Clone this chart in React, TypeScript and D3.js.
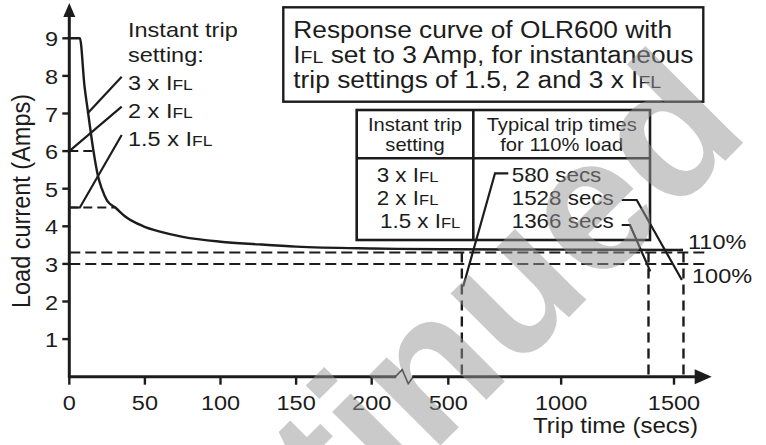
import * as d3 from 'd3';

const W = 766;
const H = 445;
const SX = 1.12; // glyphs in the source are stretched sideways
const FONT = '"Liberation Sans", Arial, Helvetica, sans-serif';
const INK = '#1c1c1c';

// response curve: trip time (s) against load current (A)
const curveTime = [0, 7, 10, 12.5, 16, 19, 21.5, 25, 31, 37, 49, 60, 75, 100, 125, 150, 200, 300, 500, 1000, 1540];
const curveAmps = [9, 9, 7.75, 7, 6, 5.33, 5, 4.68, 4.48, 4.26, 4.0, 3.86, 3.72, 3.59, 3.52, 3.46, 3.41, 3.4, 3.39, 3.38, 3.37];

const yTicks = [1, 2, 3, 4, 5, 6, 7, 8, 9];
const xTicks = [0, 50, 100, 150, 200, 500, 1000, 1500];

const levels = [3.3, 3.0]; // 110% and 100% of IFL
const levelLabels = ['110%', '100%'];

// instant trip levels and where they meet the curve
const instantAmps = [6, 4.5];
const instantTime = [16, 31];

// trip times marked on the chart (as drawn) and their table labels
const tripTimes = [560, 1387, 1542];
const settingLabels = ['3 x ', '2 x ', '1.5 x '];
const tripLabels = ['580 secs', '1528 secs', '1366 secs'];

const x = d3.scaleLinear().domain([0, 200, 500, 1500]).range([69.3, 371.7, 448.3, 674]);
const y = d3.scaleLinear().domain([0, 9]).range([376.7, 38.3]);

function T({ x, y, size, anchor = 'start', rotate, children }: any) {
  return (
    <text
      transform={`translate(${x},${y}) scale(${SX},1)${rotate ? ` rotate(${rotate})` : ''}`}
      textAnchor={anchor}
      fontSize={size}
    >
      {children}
    </text>
  );
}

const Ifl = () => (
  <>
    I<tspan fontSize="0.74em">FL</tspan>
  </>
);

export default function App() {
  const line = d3
    .line<number>()
    .x((_, i) => x(curveTime[i]))
    .y(d => y(d))
    .curve(d3.curveMonotoneX);

  const x0 = x(0);
  const y0 = y(0);
  const xEnd = 711.7;
  const breakX = x(300);

  return (
    <svg
      width={W}
      height={H}
      style={{ position: 'absolute', left: 0, top: 0, background: '#fff' }}
      fontFamily={FONT}
      fill={INK}
    >
      {/* reference levels */}
      {levels.map((v, i) => (
        <g key={v}>
          <line x1={x0} x2={707} y1={y(v)} y2={y(v)} stroke={INK} strokeWidth={2} strokeDasharray="11 5" />
          <T x={i === 0 ? 688 : 692} y={y(v) + (i === 0 ? -4 : 19)} size={21}>{levelLabels[i]}</T>
        </g>
      ))}

      {/* instant trip levels */}
      {instantAmps.map((v, i) => (
        <line key={v} x1={x0} x2={x(instantTime[i])} y1={y(v)} y2={y(v)} stroke={INK} strokeWidth={2} strokeDasharray="9 5" />
      ))}

      {/* trip time drop lines */}
      {tripTimes.map(t => (
        <line key={t} x1={x(t)} x2={x(t)} y1={y(3.3)} y2={y0} stroke={INK} strokeWidth={2.4} strokeDasharray="10 6" />
      ))}

      {/* curve */}
      <path d={line(curveAmps) || ''} fill="none" stroke={INK} strokeWidth={2.4} />
      <line x1={x(1540)} x2={680} y1={y(3.37)} y2={y(3.37)} stroke={INK} strokeWidth={2.2} />

      {/* axes */}
      <line x1={x0} x2={x0} y1={y0 + 1.5} y2={14} stroke={INK} strokeWidth={3} />
      <path d={`M${x0},3 L${x0 - 6},17 L${x0 + 6},17 Z`} fill={INK} />
      {yTicks.map(v => (
        <g key={v}>
          <line x1={x0 - 7} x2={x0} y1={y(v)} y2={y(v)} stroke={INK} strokeWidth={2.4} />
          <T x={58} y={y(v) + 8} size={21} anchor="end">{v}</T>
        </g>
      ))}
      <line x1={x0} x2={breakX - 1} y1={y0} y2={y0} stroke={INK} strokeWidth={3} />
      <path
        d={`M${breakX - 2},${y0} L${breakX + 5},${y0 - 7} L${breakX + 11},${y0 + 7} L${breakX + 16},${y0}`}
        fill="none"
        stroke={INK}
        strokeWidth={1.6}
      />
      <line x1={breakX + 15} x2={xEnd - 12} y1={y0} y2={y0} stroke={INK} strokeWidth={3} />
      <path d={`M${xEnd},${y0} L${xEnd - 17},${y0 - 7.5} L${xEnd - 17},${y0 + 7.5} Z`} fill={INK} />
      {xTicks.map(t => (
        <g key={t}>
          <line x1={x(t)} x2={x(t)} y1={y0} y2={y0 + 8} stroke={INK} strokeWidth={2.4} />
          <T x={x(t)} y={y0 + 33} size={21} anchor="middle">{t}</T>
        </g>
      ))}
      <T x={533} y={433} size={21.5}>Trip time (secs)</T>
      <T x={30} y={201} size={23.5} anchor="middle" rotate={-90}>Load current (Amps)</T>

      {/* instant trip setting labels, top left */}
      <T x={128} y={36.5} size={21}>Instant trip</T>
      <T x={128} y={62} size={21}>setting:</T>
      {settingLabels.map((s, i) => (
        <T key={s} x={128} y={90 + i * 28} size={21}>
          {s}
          <Ifl />
        </T>
      ))}
      <line x1={121.7} y1={76.7} x2={x(12)} y2={y(7)} stroke={INK} strokeWidth={2.2} />
      <line x1={121.7} y1={106.7} x2={x(0)} y2={y(6)} stroke={INK} strokeWidth={2.2} />
      <polyline
        points={`121.7,135 ${x(7)},${y(4.5)} ${x(0)},${y(4.5)}`}
        fill="none"
        stroke={INK}
        strokeWidth={2.2}
      />

      {/* title box */}
      <rect x={283.3} y={7.3} width={420} height={94.4} fill="#fff" stroke={INK} strokeWidth={2.4} />
      <T x={293.3} y={38.3} size={23.5}>Response curve of OLR600 with</T>
      <T x={293.3} y={63.3} size={23.5}>
        <Ifl /> set to 3 Amp, for instantaneous
      </T>
      <T x={293.3} y={87.7} size={23.5}>
        trip settings of 1.5, 2 and 3 x <Ifl />
      </T>

      {/* table */}
      <rect x={356.7} y={110} width={293.3} height={130} fill="#fff" stroke={INK} strokeWidth={2.6} />
      <line x1={473.3} x2={473.3} y1={110} y2={240} stroke={INK} strokeWidth={2.6} />
      <line x1={356.7} x2={650} y1={158.3} y2={158.3} stroke={INK} strokeWidth={2.6} />
      <T x={415} y={131} size={18} anchor="middle">Instant trip</T>
      <T x={415} y={150.5} size={18} anchor="middle">setting</T>
      <T x={561.7} y={131} size={18} anchor="middle">Typical trip times</T>
      <T x={561.7} y={150.5} size={18} anchor="middle">for 110% load</T>
      {settingLabels.map((s, i) => (
        <T key={s} x={i === 2 ? 380 : 376.7} y={181.7 + i * 23.3} size={20}>
          {s}
          <Ifl />
        </T>
      ))}
      {tripLabels.map((s, i) => (
        <T key={s} x={511.7} y={181.7 + i * 23.3} size={20}>{s}</T>
      ))}

      {/* leaders from table to drop lines */}
      <polyline points={`508.3,173.3 495,173.3 ${x(566)},${y(2.4)}`} fill="none" stroke={INK} strokeWidth={2.2} />
      <polyline points={`621.7,200 636.7,200 ${x(1535)},${y(2.57)}`} fill="none" stroke={INK} strokeWidth={2.2} />
      <polyline points={`621.7,225 630,225 ${x(1395)},${y(2.8)}`} fill="none" stroke={INK} strokeWidth={2.2} />

      {/* watermark */}
      <text
        transform="translate(752,134) rotate(-45)"
        textAnchor="end"
        fontSize={190}
        fontWeight="bold"
        fill="rgb(150,150,150)"
        fillOpacity={0.5}
      >
        Discontinued
      </text>
    </svg>
  );
}
